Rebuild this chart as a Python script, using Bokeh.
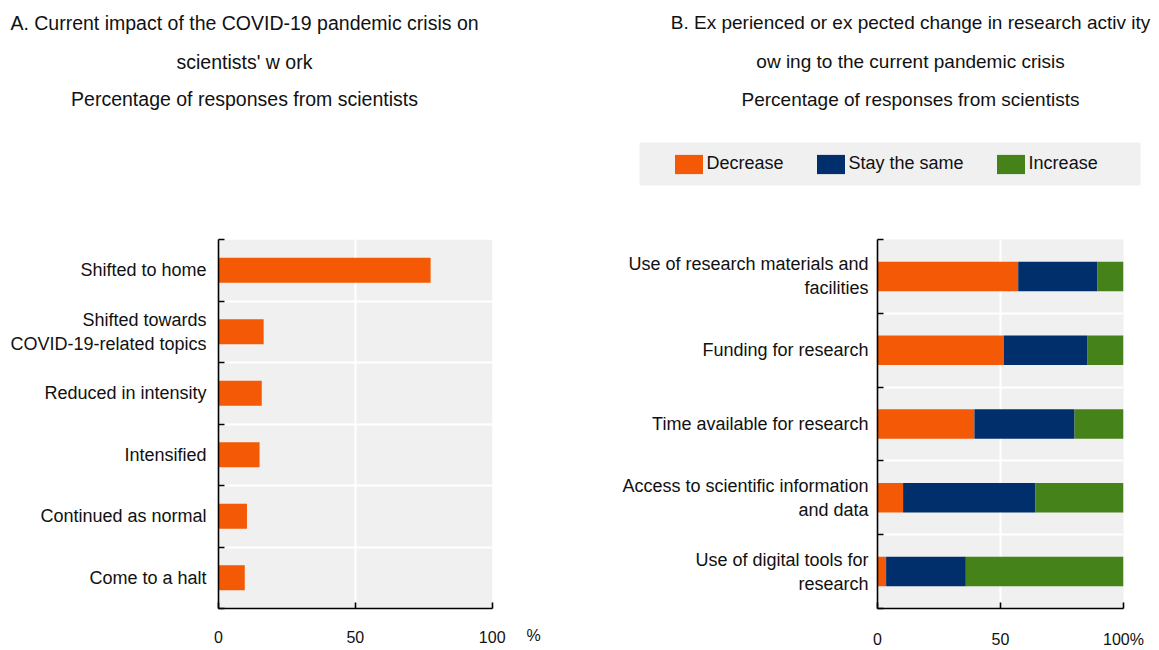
from bokeh.plotting import figure
from bokeh.models import (Range1d, FixedTicker, Legend, LegendItem,
                          BoxAnnotation, ColumnDataSource)
from bokeh.layouts import row, column
from bokeh.core.properties import value
from bokeh.embed import file_html
from bokeh.resources import INLINE

# ---------------- data ----------------
impact_labels = ["Shifted to home", "Shifted towards\nCOVID-19-related topics",
                 "Reduced in intensity", "Intensified", "Continued as normal",
                 "Come to a halt"]
impact_values = [77.5, 16.5, 15.8, 15.0, 10.4, 9.6]

change_labels = ["Use of research materials and\nfacilities", "Funding for research",
                 "Time available for research",
                 "Access to scientific information\nand data",
                 "Use of digital tools for\nresearch"]
decrease = [57.2, 51.4, 39.4, 10.4, 3.5]
stay_same = [32.1, 34.0, 40.7, 53.7, 32.4]
increase = [10.7, 14.6, 19.9, 35.9, 64.1]
series_names = ["Decrease", "Stay the same", "Increase"]

x_ticks = [0, 50, 100]
x_ticks_b_labels = {100: "100%"}
unit_a = "%"

title_a = ["A. Current impact of the COVID-19 pandemic crisis on",
           "scientists' w ork", "Percentage of responses from scientists"]
title_b = ["B. Ex perienced or ex pected change in research activ ity",
           "ow ing to the current pandemic crisis",
           "Percentage of responses from scientists"]

# ---------------- style ----------------
FONT = "Liberation Sans"
ORANGE = "#F45A05"
NAVY = "#002F6C"
GREEN = "#46821A"
BG = "#F0F0F0"
TXT = "#111111"

W, H = 1159, 650
TOP_H = 200          # header figure height (titles + legend)
FRAME_TOP = 239      # page y of both plot frames
FRAME_BOT = 608
FRAME_H = FRAME_BOT - FRAME_TOP
BORDER_TOP = FRAME_TOP - TOP_H
BORDER_BOT = H - FRAME_BOT
SPLIT = 580


def style_axes(p, n, labels, centers, standoff):
    p.border_fill_color = "white"
    p.outline_line_color = None
    for ax in (p.xaxis[0], p.yaxis[0]):
        ax.axis_line_color = "black"
        ax.axis_line_width = 1.6
        ax.major_tick_line_color = "black"
        ax.major_tick_line_width = 1.6
        ax.minor_tick_line_color = "black"
        ax.minor_tick_line_width = 1.6
        ax.major_label_text_font = FONT
        ax.major_label_text_color = TXT
    ya = p.yaxis[0]
    ya.ticker = FixedTicker(ticks=centers, minor_ticks=list(range(n + 1)))
    ya.major_label_overrides = {c: lab for c, lab in zip(centers, labels)}
    ya.major_tick_in = 0
    ya.major_tick_out = 0
    ya.minor_tick_in = 6
    ya.minor_tick_out = 0
    ya.major_label_text_font_size = "18px"
    ya.major_label_standoff = standoff
    xa = p.xaxis[0]
    xa.ticker = FixedTicker(ticks=x_ticks, minor_ticks=[])
    xa.major_tick_in = 6
    xa.major_tick_out = 0
    xa.major_label_text_font_size = "16px"
    xa.major_label_standoff = 22
    p.xgrid.ticker = FixedTicker(ticks=[50])
    p.ygrid.ticker = FixedTicker(ticks=list(range(1, n)))
    for g in (p.xgrid[0], p.ygrid[0]):
        g.grid_line_color = "white"
        g.grid_line_width = 2


# ---------------- header: titles + legend ----------------
top = figure(width=W, height=TOP_H, x_range=Range1d(0, W), y_range=Range1d(TOP_H, 0),
             min_border=0, x_axis_location=None, y_axis_location=None,
             output_backend="svg", toolbar_location=None)
top.outline_line_color = None
top.grid.visible = False
for lines, cx, bases, fs in ((title_a, 244, [22, 61, 98], "19.5px"),
                             (title_b, 910, [22, 61, 99], "19px")):
    top.text(x=[cx] * len(lines), y=bases, text=lines, text_align="center",
             text_baseline="alphabetic", text_font=value(FONT), text_font_size=fs,
             text_color=TXT)
top.quad(left=[639], right=[1140], top=[142], bottom=[185], fill_color=BG, line_color=None)
# zero-size stand-ins that carry the series colours into the legend
dummies = [top.hbar(y=[0], left=[0], right=[0], height=0, color=c, line_color=None)
           for c in (ORANGE, NAVY, GREEN)]
legend = Legend(items=[LegendItem(label=nm, renderers=[r]) for nm, r in zip(series_names, dummies)],
                orientation="horizontal", location=(658.5, TOP_H - 187.5),
                glyph_width=35, glyph_height=24, label_standoff=1, spacing=29, padding=12,
                label_text_font=FONT, label_text_font_size="18px", label_text_color=TXT,
                background_fill_alpha=0, border_line_alpha=0)
top.add_layout(legend)

# ---------------- panel A ----------------
nA = len(impact_labels)
yA = [nA - i - 0.5 for i in range(nA)]
A_LEFT = 218
A_FRAME_W = 315                      # frame extends right to hold the "%" unit
A_XMAX = 100 * A_FRAME_W / 273.7
pA = figure(frame_width=A_FRAME_W, frame_height=FRAME_H, min_border_left=A_LEFT,
            min_border_right=SPLIT - A_LEFT - A_FRAME_W,
            min_border_top=BORDER_TOP, min_border_bottom=BORDER_BOT,
            x_range=Range1d(0, A_XMAX), y_range=Range1d(0, nA),
            output_backend="svg", toolbar_location=None)
pA.background_fill_color = "white"
pA.add_layout(BoxAnnotation(left=0, right=100, fill_color=BG, fill_alpha=1,
                            line_color=None, level="image"))
pA.hbar(y=yA, right=impact_values, left=0, height=0.41, color=ORANGE, line_color=None)
style_axes(pA, nA, impact_labels, yA, 12)
pA.xaxis[0].bounds = (0, 100)
pA.xaxis[0].axis_label = unit_a
pA.xaxis[0].axis_label_align = "end"
pA.xaxis[0].axis_label_standoff = -19
pA.xaxis[0].axis_label_text_font = FONT
pA.xaxis[0].axis_label_text_font_size = "16px"
pA.xaxis[0].axis_label_text_font_style = "normal"
pA.xaxis[0].axis_label_text_color = TXT

# ---------------- panel B ----------------
nB = len(change_labels)
yB = [nB - i - 0.5 for i in range(nB)]
B_LEFT = 877
B_FRAME_W = 246
pB = figure(frame_width=B_FRAME_W, frame_height=FRAME_H, min_border_left=B_LEFT - SPLIT,
            min_border_right=W - B_LEFT - B_FRAME_W,
            min_border_top=BORDER_TOP, min_border_bottom=BORDER_BOT,
            x_range=Range1d(0, 100), y_range=Range1d(0, nB),
            output_backend="svg", toolbar_location=None)
pB.background_fill_color = BG
srcB = ColumnDataSource({"y": yB, series_names[0]: decrease,
                         series_names[1]: stay_same, series_names[2]: increase})
pB.hbar_stack(series_names, y="y", height=0.4, color=[ORANGE, NAVY, GREEN],
              source=srcB, line_color=None)
style_axes(pB, nB, change_labels, yB, 9)
pB.xaxis[0].major_label_overrides = x_ticks_b_labels

layout = column(top, row(pA, pB))
open("out.html", "w").write(file_html(layout, INLINE))
